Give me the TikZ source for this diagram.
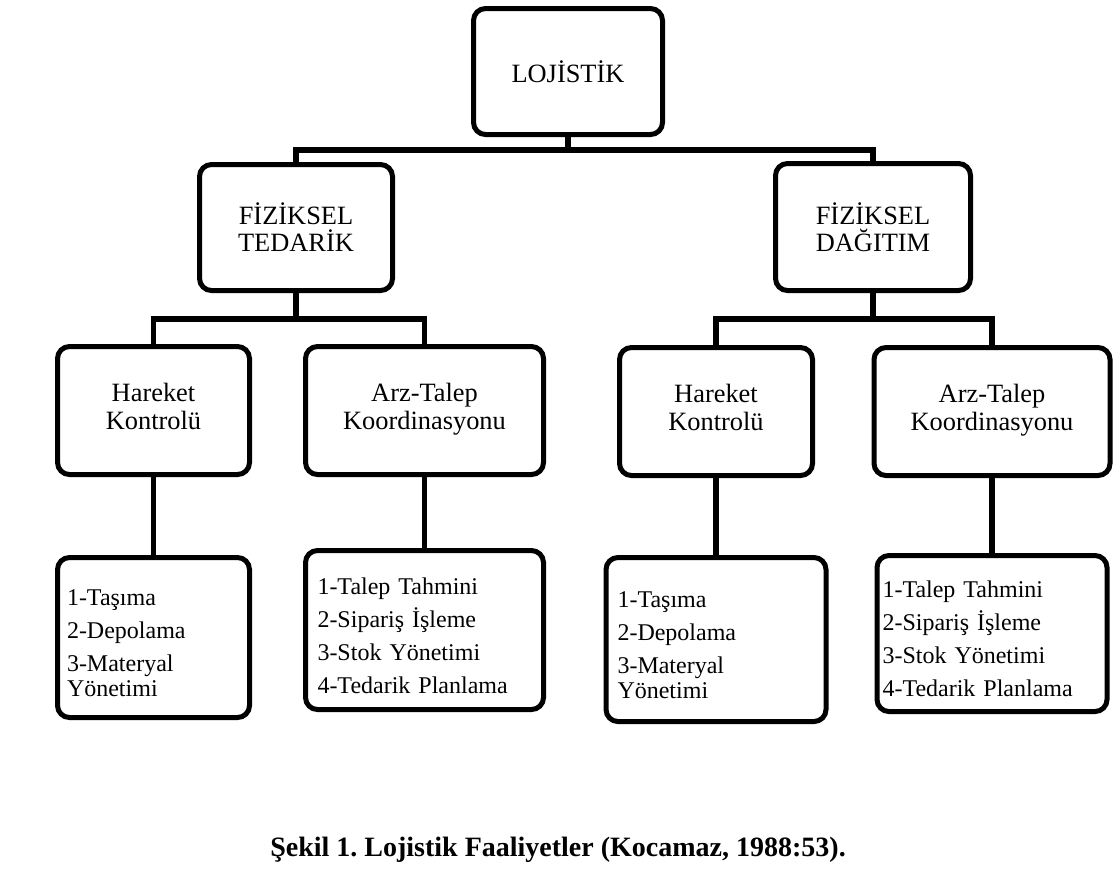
\documentclass[tikz,border=0pt]{standalone}
\usepackage{fontspec}
\setmainfont{Liberation Serif}
\frenchspacing

\begin{document}
\begin{tikzpicture}[
  x=0.5pt,y=-0.5pt,
  box/.style={draw=black,line width=2.5pt,rounded corners=6pt,fill=white,align=center,inner sep=2pt,font=\fontsize{13.2}{13.6}\selectfont},
  listbox/.style={box,align=left,font=\fontsize{12}{12.5}\selectfont},
  link/.style={draw=black,line width=2.6pt}
]
\fill[white] (0,0) rectangle (1113,880);
\useasboundingbox (0,0) rectangle (1113,880);
\node[box,minimum width=94.5pt,minimum height=63pt] (loj) at (568,71.5) {LOJİSTİK};
\node[box,minimum width=96.5pt,minimum height=63pt] (ted) at (296,227.5) {FİZİKSEL\\TEDARİK};
\node[box,minimum width=97.5pt,minimum height=63.5pt] (dag) at (873,227) {FİZİKSEL\\DAĞITIM};
\node[box,minimum width=96pt,minimum height=64pt] (hk1) at (153.5,410.5) {Hareket\\Kontrolü\strut};
\node[box,minimum width=119pt,minimum height=64pt] (at1) at (424.5,410.5) {Arz-Talep\\Koordinasyonu\strut};
\node[box,minimum width=96.5pt,minimum height=64pt] (hk2) at (716,411.5) {Hareket\\Kontrolü\strut};
\node[box,minimum width=118pt,minimum height=64pt] (at2) at (992,411.5) {Arz-Talep\\Koordinasyonu\strut};
\node[listbox,inner xsep=4.75pt,text width=86.5pt,minimum height=80pt] (l1) at (153.5,637.5)
  {\rule{0pt}{14pt}1-Taşıma\\[4pt]2-Depolama\\[4pt]3-Materyal\\Yönetimi};
\node[listbox,inner xsep=6pt,text width=107pt,minimum height=79.5pt] (l2) at (424.5,630)
  {\rule{0pt}{14pt}1-Talep Tahmini\\[4pt]2-Sipariş İşleme\\[4pt]3-Stok Yönetimi\\[4pt]4-Tedarik Planlama};
\node[listbox,inner xsep=5.75pt,text width=98.5pt,minimum height=82pt] (l3) at (716,639.5)
  {\rule{0pt}{14pt}1-Taşıma\\[4pt]2-Depolama\\[4pt]3-Materyal\\Yönetimi};
\node[listbox,inner xsep=2.75pt,text width=109.5pt,minimum height=78pt] (l4) at (992,633.5)
  {\rule{0pt}{14pt}1-Talep Tahmini\\[4pt]2-Sipariş İşleme\\[4pt]3-Stok Yönetimi\\[4pt]4-Tedarik Planlama};
\coordinate (j1) at (568,150);
\coordinate (j2) at (296,319);
\coordinate (j3) at (873,319);
\draw[link] (loj.south) -- (j1);
\draw[link] (ted.north) |- (j1) -| (dag.north);
\draw[link] (ted.south) -- (j2);
\draw[link] (hk1.north) |- (j2) -| (at1.north);
\draw[link] (dag.south) -- (j3);
\draw[link] (hk2.north) |- (j3) -| (at2.north);
\draw[link] (hk1.south) -- (l1.north);
\draw[link] (at1.south) -- (l2.north);
\draw[link] (hk2.south) -- (l3.north);
\draw[link] (at2.south) -- (l4.north);
\node[font=\bfseries\fontsize{14}{16}\selectfont] (cap) at (558,850) {Şekil 1. Lojistik Faaliyetler (Kocamaz, 1988:53).};
\end{tikzpicture}
\end{document}
